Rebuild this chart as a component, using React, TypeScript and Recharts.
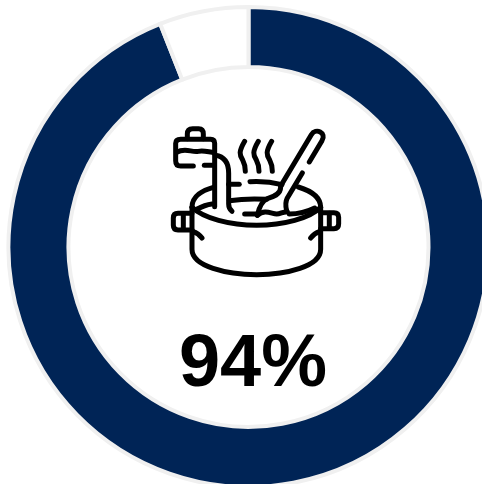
import React from "react";
import { PieChart, Pie, Cell } from "recharts";

const segmentNames = ["Yes", "No"];
const segmentValues = [94, 6];
const segmentColors = ["#002456", "#ffffff"];
const headline = "94%";

const rows = segmentNames.map((name, i) => ({ name, value: segmentValues[i] }));

// Cooking pot pictogram, outlined with round-capped strokes.
const potStrokes = [
  // tap body and knob
  "M130 168 H92 Q77 168 77 152 V100 Q77 88 92 88 H182 Q194 88 194 100 V290",
  "M112 86 V72 Q112 56 128 56 H146 Q160 56 160 72 V86",
  "M80 127 C105 112 125 128 145 124 C160 120 175 126 193 128",
  "M163 166 H193",
  "M196 136 C225 140 236 160 236 190 V282 Q236 296 246 304",
  // steam
  "M284 94 C266 125 268 135 278 150 C286 165 286 172 286 184",
  "M325 94 C307 125 309 135 319 150 C327 165 327 172 327 184",
  "M365 94 C347 125 349 135 359 150 C367 165 367 172 367 184",
  // spoon
  "M392 228 L484 74 C497 52 531 68 516 92 L478 156",
  "M457 189 L412 264 Q404 280 410 302",
  "M392 232 C392 255 365 262 352 266 C335 272 327 295 322 316",
  "M322 316 C345 296 365 312 380 312 C392 312 400 304 412 306",
  // rim and liquid
  "M126 292 C126 258 160 240 190 232",
  "M236 223 H268",
  "M300 215 C335 213 365 216 396 224",
  "M445 231 C485 243 512 262 512 292",
  "M126 292 C160 325 240 346 320 346 C400 346 480 325 512 292",
  "M140 298 C155 290 170 284 186 282",
  "M238 272 C280 266 315 266 350 268",
  "M284 312 H320",
  "M418 312 C445 312 470 306 494 294",
  // pot body
  "M126 292 V418 C126 470 230 494 320 494 C410 494 512 470 512 418 V292",
  // handles
  "M126 310 H84 Q70 310 70 324 V346 Q70 360 84 360 H126",
  "M100 312 V358",
  "M512 308 H552 Q566 308 566 322 V342 Q566 356 552 356 H512",
  "M538 310 V354",
  "M128 364 Q146 370 156 384",
  "M510 364 Q492 370 482 384",
];

export default function App() {
  return (
    <div style={{ position: "absolute", left: 0, top: 0, width: 482, height: 484, overflow: "hidden", background: "#fff" }}>
      <PieChart width={482} height={484} margin={{ top: 0, right: 0, bottom: 0, left: 0 }}>
        <Pie
          data={rows}
          dataKey="value"
          nameKey="name"
          cx={248.5}
          cy={247}
          innerRadius={180}
          outerRadius={240}
          startAngle={90}
          endAngle={-270}
          stroke="#f0f0f0"
          strokeWidth={4}
          isAnimationActive={false}
        >
          {rows.map((row, i) => (
            <Cell key={row.name} fill={segmentColors[i]} />
          ))}
        </Pie>
      </PieChart>
      <svg width={482} height={484} style={{ position: "absolute", left: 0, top: 0 }}>
        <g transform="translate(150 110) scale(0.3333)" fill="none" stroke="#000" strokeWidth={15} strokeLinecap="round" strokeLinejoin="round">
          {potStrokes.map((d) => (
            <path key={d} d={d} />
          ))}
        </g>
        <text x={253} y={386} textAnchor="middle" fontFamily="'Liberation Sans', Arial, sans-serif" fontWeight={700} fontSize={74} fill="#000">
          {headline}
        </text>
      </svg>
    </div>
  );
}
